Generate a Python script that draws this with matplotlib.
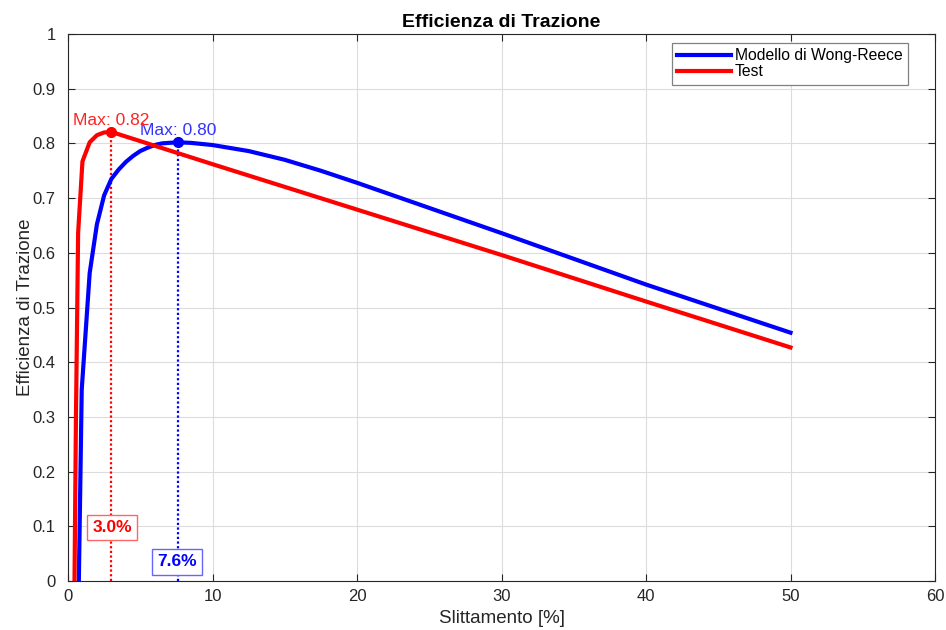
import matplotlib.pyplot as plt
import numpy as np

plt.rcParams['font.family'] = ['Liberation Sans', 'DejaVu Sans']

# slip [%] and tractive efficiency, Wong-Reece model
slip_model = [0.75, 0.95, 1.5, 2.0, 2.5, 3.0, 3.5, 4.0, 4.5, 5.0, 5.5, 6.0, 6.5, 7.0, 7.6,
              8.5, 10, 12.5, 15, 17.5, 20, 22.5, 25, 27.5, 30, 35, 40, 45, 50]
eff_model = [0.0, 0.35, 0.563, 0.652, 0.705, 0.735, 0.752, 0.766, 0.777, 0.786, 0.792,
             0.797, 0.800, 0.801, 0.802, 0.801, 0.797, 0.786, 0.770, 0.750, 0.728,
             0.705, 0.682, 0.659, 0.636, 0.589, 0.542, 0.498, 0.454]

# slip [%] and tractive efficiency, test data
slip_test = [0.45, 0.55, 0.7, 1.0, 1.5, 2.0, 2.5, 3.0, 10, 20, 30, 40, 50]
eff_test = [0.0, 0.3, 0.636, 0.767, 0.802, 0.815, 0.820, 0.821,
            0.762, 0.679, 0.596, 0.511, 0.427]

max_model = (7.6, 0.80)
max_test = (3.0, 0.82)

W, H = 946, 630
fig = plt.figure(figsize=(W / 100, H / 100), dpi=100)
ax = fig.add_axes([68 / W, 1 - 581 / H, (935 - 68) / W, (581 - 34) / H])

ax.plot(slip_model, eff_model, color='#0000ff', lw=3, label='Modello di Wong-Reece', zorder=3)
ax.plot(slip_test, eff_test, color='#ff0000', lw=3, label='Test', zorder=3)

# peaks of the two curves
i_m = int(np.argmax(eff_model))
i_t = int(np.argmax(eff_test))
xm, ym = slip_model[i_m], eff_model[i_m]
xt, yt = slip_test[i_t], eff_test[i_t]

ax.plot([xm, xm], [0, ym], color='#0000ff', lw=1.6, ls=(0, (1, 1.1)), zorder=2)
ax.plot([xt, xt], [0, yt], color='#ff0000', lw=1.6, ls=(0, (1, 1.1)), zorder=2)
ax.plot(xm, ym, 'o', color='#0000ff', ms=7, zorder=4)
ax.plot(xt, yt, 'o', color='#ff0000', ms=7, zorder=4)

ax.text(xm, ym + 0.008, f'Max: {max_model[1]:.2f}', color='#3333ff', fontsize=12.5,
        ha='center', va='bottom')
ax.text(xt, yt + 0.008, f'Max: {max_test[1]:.2f}', color='#ff2222', fontsize=12.5,
        ha='center', va='bottom')

ax.text(xt + 0.05, 0.098, f'{max_test[0]:.1f}%', color='#ff0000', fontsize=12.5,
        fontweight='bold', ha='center', va='center',
        bbox=dict(boxstyle='square,pad=0.3', fc='white', ec='#ff6666', lw=1))
ax.text(xm - 0.05, 0.035, f'{max_model[0]:.1f}%', color='#0000ff', fontsize=12.5,
        fontweight='bold', ha='center', va='center',
        bbox=dict(boxstyle='square,pad=0.3', fc='white', ec='#6666ff', lw=1))

ax.set_xlim(0, 60)
ax.set_ylim(0, 1)
ax.set_xticks(np.arange(0, 61, 10))
ax.set_yticks(np.arange(0, 1.01, 0.1))
ax.set_yticklabels(['0', '0.1', '0.2', '0.3', '0.4', '0.5', '0.6', '0.7', '0.8', '0.9', '1'])
ax.tick_params(direction='in', length=5, labelsize=12, colors='#262626',
               top=True, right=True)
ax.tick_params(axis='x', pad=6)
ax.tick_params(axis='y', pad=9)
ax.grid(True, color='#dcdcdc', lw=0.8)
ax.set_axisbelow(True)
for s in ax.spines.values():
    s.set_color('#262626')
    s.set_linewidth(0.8)

ax.set_xlabel('Slittamento [%]', fontsize=13.5, color='#262626', labelpad=4)
ax.set_ylabel('Efficienza di Trazione', fontsize=13.5, color='#262626', labelpad=-1)
ax.set_title('Efficienza di Trazione', fontsize=14, fontweight='bold', pad=5)

# legend frame top-right corner at pixel (908, 43)
leg = ax.legend(loc='upper right', bbox_to_anchor=(908 / W, 1 - 43 / H),
                bbox_transform=fig.transFigure, fontsize=11.3, fancybox=False,
                framealpha=1, edgecolor='#808080', handlelength=3.4,
                borderaxespad=0, borderpad=0.35, labelspacing=0.05,
                handletextpad=0.25)
leg.get_frame().set_linewidth(0.9)

fig.savefig('out.png', dpi=100)
